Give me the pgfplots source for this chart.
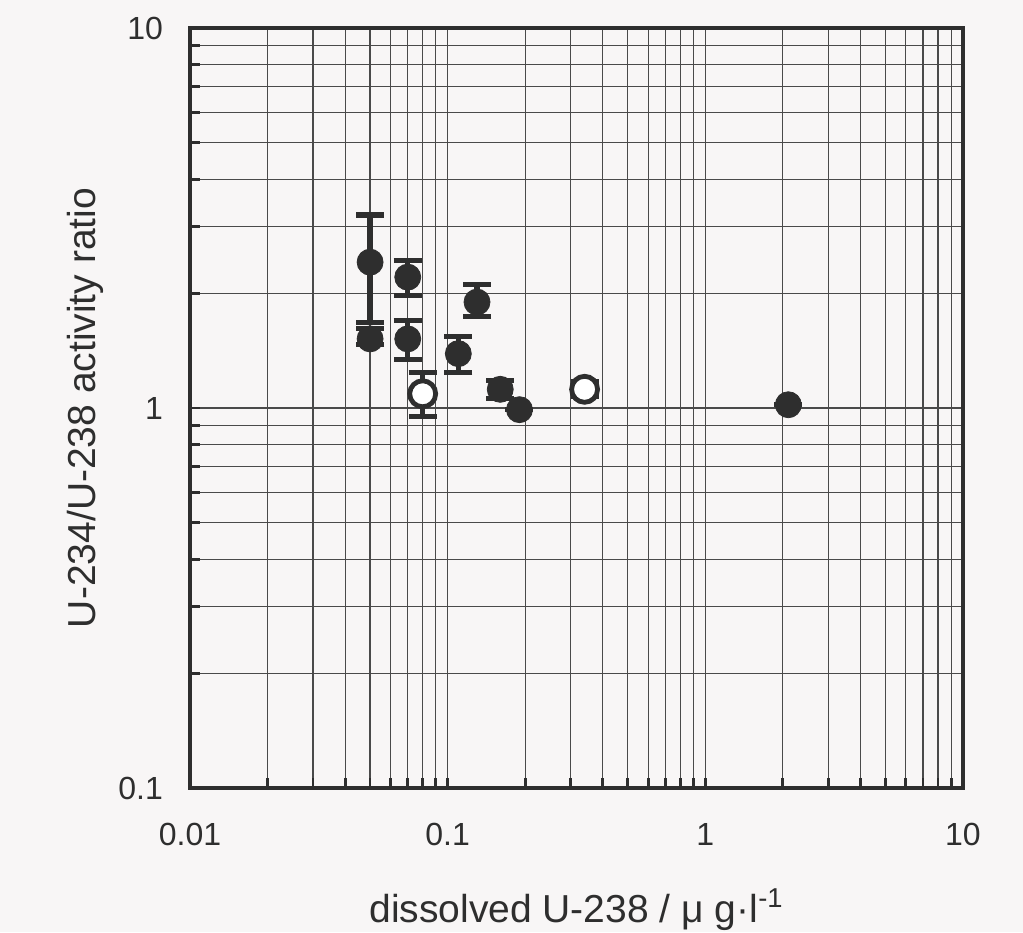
\documentclass[border=0pt]{standalone}
\usepackage{pgfplots}
\pgfplotsset{compat=1.18}
\usepackage{fontspec}
\setmainfont{Liberation Sans}
\definecolor{ink}{HTML}{2E2E2E}
\definecolor{gridc}{HTML}{4A4A4A}
\definecolor{paper}{HTML}{F8F6F6}
\begin{document}
\begin{tikzpicture}
\fill[paper] (-95pt,-72pt) rectangle (416.5pt,394pt);
\useasboundingbox (-95pt,-72pt) rectangle (416.5pt,394pt);
\begin{axis}[
  at={(0,0)}, anchor=south west,
  scale only axis, width=386.5pt, height=380pt,
  xmode=log, ymode=log,
  xmin=0.01, xmax=10, ymin=0.1, ymax=10,
  xtick={0.01,0.1,1,10}, xticklabels={0.01,0.1,1,10},
  ytick={0.1,1,10}, yticklabels={0.1,1,10},
  grid=both,
  major grid style={gridc, line width=0.6pt},
  minor grid style={gridc, line width=0.6pt},
  axis line style={ink, line width=1.6pt},
  tick align=inside, xtick pos=bottom, ytick pos=left,
  major tick length=5pt, minor tick length=5pt,
  tick style={ink, line width=1.4pt},
  font=\fontsize{16}{19}\selectfont,
  xticklabel style={yshift=-14pt, text=ink},
  yticklabel style={xshift=-10pt, text=ink},
  xlabel={dissolved U-238 / μ g·l\textsuperscript{-1}},
  ylabel={U-234/U-238 activity ratio},
  xlabel style={at={(axis description cs:0.5,0)}, anchor=center, yshift=-61pt, text=ink, font=\fontsize{19.5}{22}\selectfont},
  ylabel style={at={(axis description cs:-0.135,0.5)}, anchor=center, text=ink, font=\fontsize{19.5}{22}\selectfont},
]
\addplot[only marks, mark=*, mark size=6.5pt, color=ink, mark options={fill=ink, draw=ink},
  error bars/.cd, y dir=both, y explicit,
  error bar style={line width=2.6pt, ink},
  error mark options={rotate=90, mark size=7pt, line width=2.6pt, ink}]
  table[x=x, y=y, y error plus=ep, y error minus=em] {
x y ep em
0.05 2.42 0.80 0.74
0.05 1.52 0.10 0.05
0.07 2.21 0.24 0.23
0.07 1.52 0.18 0.18
0.13 1.90 0.21 0.16
0.11 1.39 0.15 0.15
0.16 1.12 0.06 0.06
0.19 0.99 0 0
2.1 1.02 0 0
};
\addplot[only marks, mark=*, mark size=6.5pt, color=ink, mark options={fill=white, draw=ink, line width=2.4pt},
  error bars/.cd, y dir=both, y explicit,
  error bar style={line width=2.6pt, ink},
  error mark options={rotate=90, mark size=7pt, line width=2.6pt, ink}]
  table[x=x, y=y, y error plus=ep, y error minus=em] {
x y ep em
0.08 1.09 0.15 0.14
0.34 1.12 0.05 0.05
};
\end{axis}
\end{tikzpicture}
\end{document}
